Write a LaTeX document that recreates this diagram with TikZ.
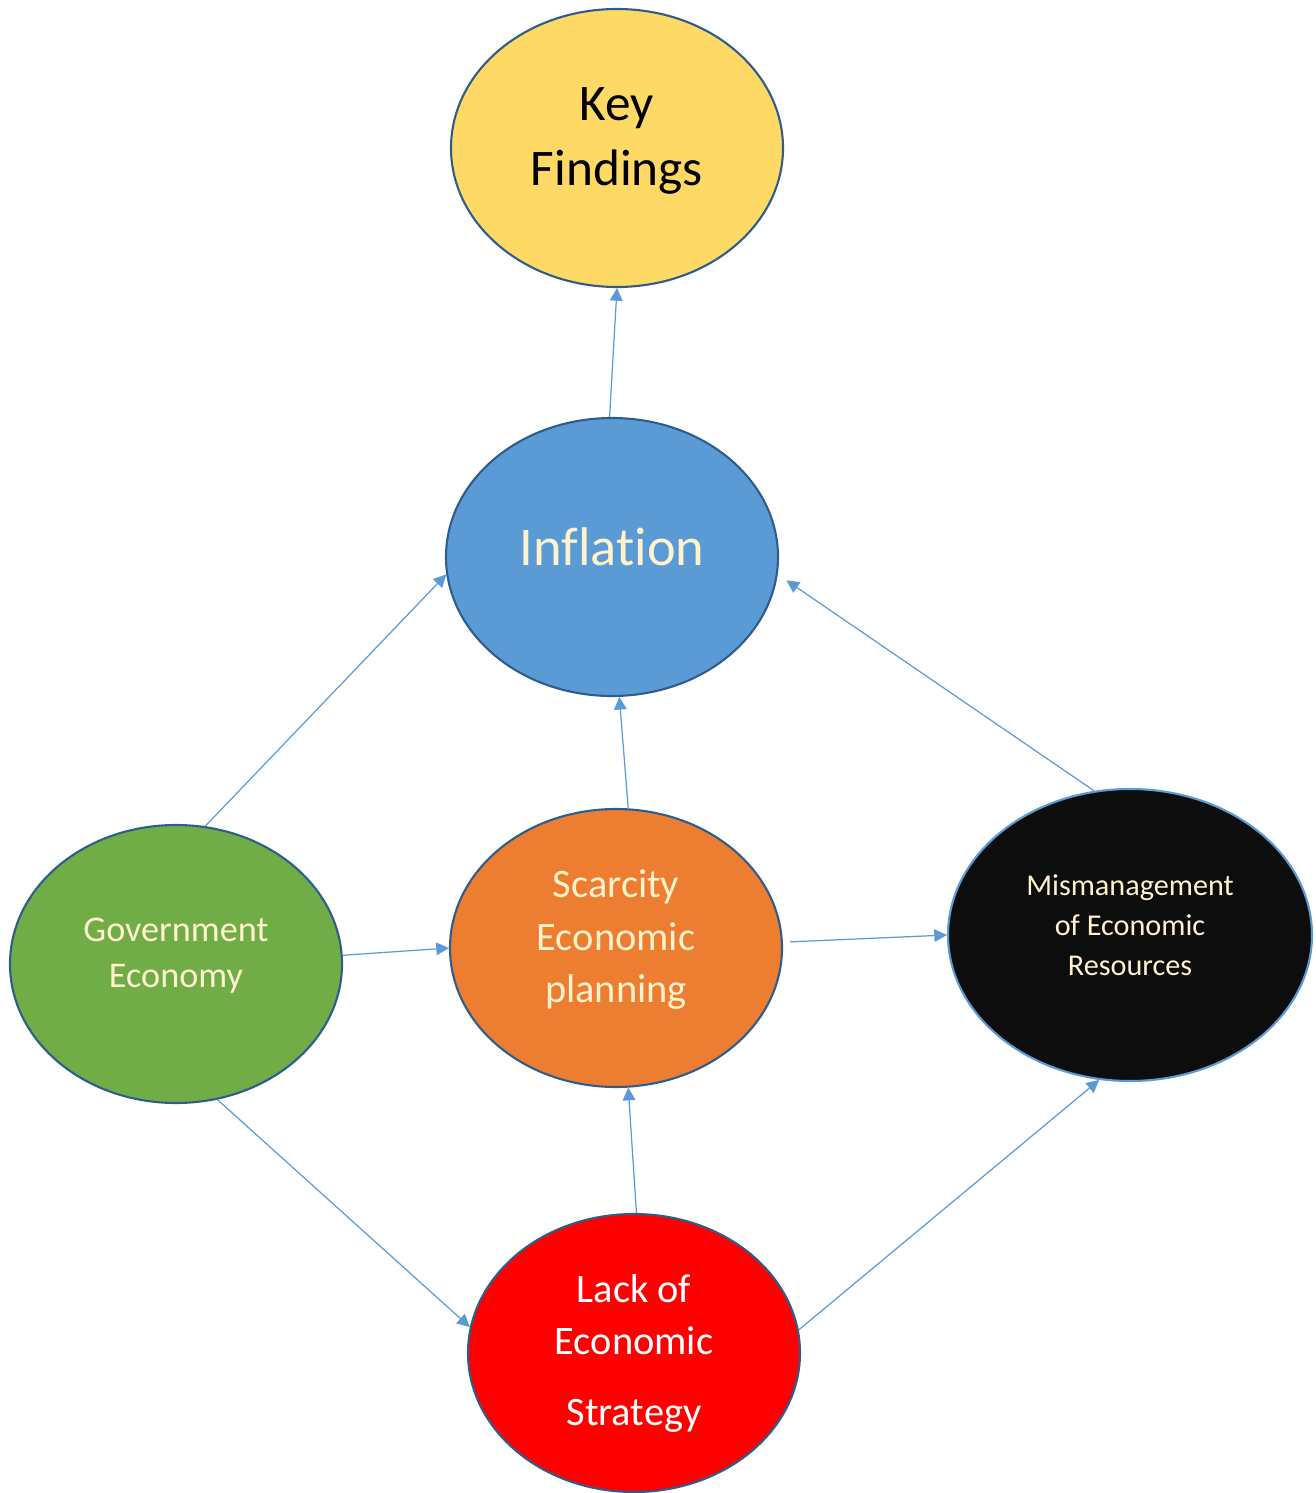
\documentclass[tikz,border=0pt]{standalone}
\usepackage{fontspec}
\setmainfont{Carlito}[Ligatures=NoCommon]
\usetikzlibrary{arrows.meta,shapes.geometric}
\definecolor{edgeblue}{HTML}{2E5D8C}
\definecolor{linkblue}{HTML}{5B9BD5}
\definecolor{keyyellow}{HTML}{FFD966}
\definecolor{infblue}{HTML}{5B9BD5}
\definecolor{govgreen}{HTML}{70AD47}
\definecolor{scarorange}{HTML}{ED7D31}
\definecolor{misblack}{HTML}{0D0D0D}
\definecolor{lackred}{HTML}{FF0000}
\definecolor{paletext}{HTML}{FFF2CC}

\begin{document}
\begin{tikzpicture}[
  >={Triangle[length=3.6pt,width=3.6pt]},
  bubble/.style={ellipse,draw=edgeblue,line width=0.6pt,inner sep=0pt,
    minimum width=3.32cm,minimum height=2.78cm,align=center},
  link/.style={->,draw=linkblue,line width=0.35pt},
]
  \useasboundingbox (0,0) rectangle (13.15,-14.93);

  \node[bubble,fill=keyyellow,text depth=6.7pt,font=\fontsize{14.6}{18.5}\selectfont] (key) at (6.17,-1.48) {Key\\Findings};
  \node[bubble,fill=infblue,text=paletext,text depth=5.7pt,font=\fontsize{15.5}{19}\selectfont] (infl) at (6.12,-5.57) {Inflation};
  \node[bubble,fill=govgreen,text=paletext,text depth=6.2pt,font=\fontsize{10.3}{13.1}\selectfont] (gov) at (1.76,-9.64) {Government\\Economy};
  \node[bubble,fill=scarorange,text=paletext,text depth=6.7pt,font=\fontsize{11.5}{15}\selectfont] (scar) at (6.16,-9.48) {Scarcity\\Economic\\planning};
  \node[bubble,fill=misblack,draw=linkblue,text=paletext,text depth=5.7pt,minimum width=3.64cm,minimum height=2.92cm,
    font=\fontsize{8.6}{11.4}\selectfont] (mis) at (11.30,-9.35) {Mismanagement\\of Economic\\Resources};
  \node[bubble,fill=lackred,text=white,font=\fontsize{11.5}{15}\selectfont] (lack) at (6.34,-13.53) {Lack of\\Economic\\[5pt]Strategy};

  % connectors
  \draw[link] (infl.91) -- (key.270);
  \draw[link] (gov.78) -- (infl.186);
  \draw[link] (scar.85) -- (infl.273);
  \draw[link,shorten >=3pt] (mis.104) -- (infl.354);
  \draw[link] (gov.3) -- (scar.180);
  \draw[link,shorten <=2pt] (scar.2) -- (mis.180);
  \draw[link] (gov.287) -- (lack.171);
  \draw[link] (lack.89) -- (scar.275);
  \draw[link] (lack.8) -- (mis.258);
\end{tikzpicture}
\end{document}
